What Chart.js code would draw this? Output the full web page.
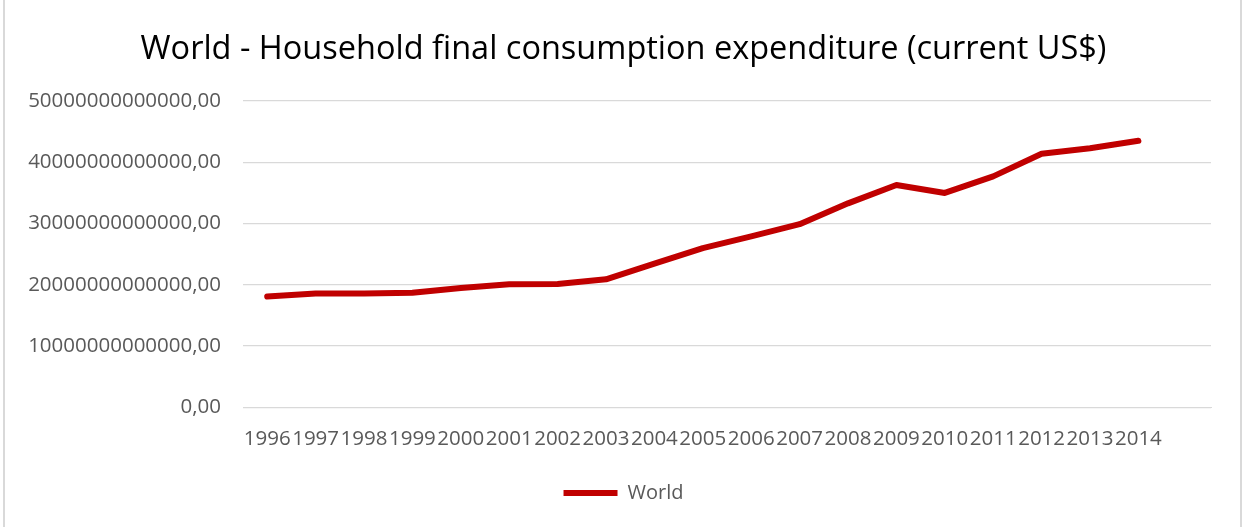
<!DOCTYPE html>
<html>
<head>
<meta charset="utf-8">
<title>World - Household final consumption expenditure</title>
<script src="https://cdn.jsdelivr.net/npm/chart.js@4/dist/chart.umd.min.js"></script>
<style>
  html, body { margin: 0; padding: 0; background: #fff; }
  #wrap {
    position: absolute; left: 3px; top: 0;
    width: 1235px; height: 527px;
    border-left: 2px solid #d9d9d9; border-right: 2px solid #d9d9d9;
  }
  #frame { position: absolute; left: -2px; top: 0; width: 1243px; height: 527px; }
</style>
</head>
<body>
<div id="wrap"></div>
<div id="frame"><canvas id="chart" width="1243" height="527"></canvas></div>
<script>
// Consumo final de los hogares, mundo (US$ a precios actuales)
const years = ["1996", "1997", "1998", "1999", "2000", "2001", "2002", "2003", "2004", "2005",
               "2006", "2007", "2008", "2009", "2010", "2011", "2012", "2013", "2014"];
const world = [18.1e12, 18.6e12, 18.6e12, 18.7e12, 19.5e12, 20.1e12, 20.15e12, 20.9e12, 23.45e12, 26.0e12,
               27.9e12, 29.9e12, 33.3e12, 36.3e12, 35.0e12, 37.7e12, 41.4e12, 42.3e12, 43.5e12];
const yTicks = [0, 10e12, 20e12, 30e12, 40e12, 50e12];

const fmt = (v) => v.toFixed(2).replace(".", ",");

document.addEventListener("DOMContentLoaded", function () {
  const ctx = document.getElementById("chart").getContext("2d");

  new Chart(ctx, {
    type: "line",
    data: {
      // hueco vacío al final del eje de categorías
      labels: years.concat([""]),
      datasets: [{
        label: "World",
        data: world,
        borderColor: "#c00000",
        backgroundColor: "#c00000",
        borderWidth: 6,
        borderCapStyle: "round",
        borderJoinStyle: "round",
        pointRadius: 0,
        tension: 0,
        fill: false
      }]
    },
    options: {
      responsive: false,
      animation: false,
      layout: { padding: { left: 25, right: 17, top: 30, bottom: 14 } },
      plugins: {
        title: {
          display: true,
          text: "World - Household final consumption expenditure (current US$)",
          color: "#000",
          font: { family: "Open Sans", size: 32.5, weight: "normal" },
          padding: { top: 0, bottom: 32 }
        },
        legend: {
          position: "bottom",
          labels: {
            usePointStyle: true,
            pointStyle: "line",
            pointStyleWidth: 54,
            color: "#595959",
            font: { family: "Open Sans", size: 20 },
            padding: 13
          }
        },
        tooltip: { enabled: false }
      },
      scales: {
        x: {
          offset: true,
          grid: { display: false, drawTicks: false },
          border: { display: true, color: "#d9d9d9", width: 1 },
          ticks: {
            autoSkip: false, maxRotation: 0, minRotation: 0,
            color: "#595959",
            font: { family: "Open Sans", size: 20.5 },
            padding: 19
          }
        },
        y: {
          min: 0,
          max: 50e12,
          afterBuildTicks: (s) => { s.ticks = yTicks.map((v) => ({ value: v })); },
          afterFit: (s) => { s.width = 220; },
          grid: { color: "#d9d9d9", lineWidth: 1.3, drawTicks: false },
          border: { display: false },
          ticks: {
            color: "#595959",
            font: { family: "Open Sans", size: 20.5 },
            padding: 22,
            callback: (v) => fmt(v)
          }
        },
        // margen derecho vacío
        yRight: {
          position: "right",
          afterFit: (s) => { s.width = 13; },
          grid: { display: false },
          border: { display: false },
          ticks: { display: false }
        }
      }
    }
  });
});
</script>
</body>
</html>
